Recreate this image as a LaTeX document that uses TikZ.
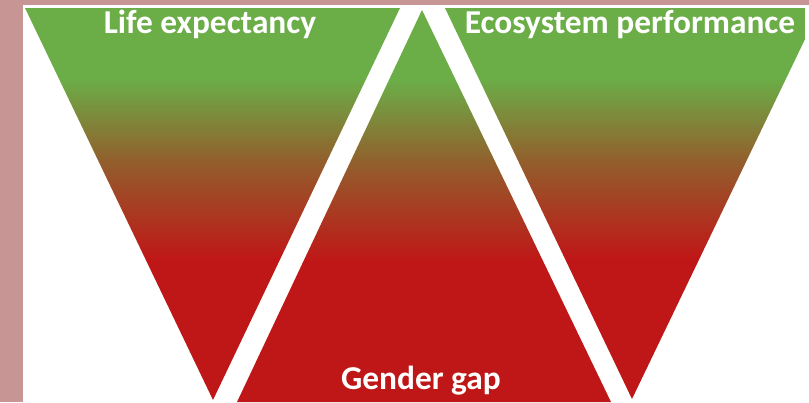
\documentclass[tikz,border=0pt]{standalone}
\usepackage{fontspec}
\setmainfont{Carlito}
\usepackage{tikz}
\usetikzlibrary{positioning}

\definecolor{rosebg}{rgb}{0.78,0.59,0.58}
\definecolor{leafgreen}{rgb}{0.42,0.68,0.28}
\definecolor{mudbrown}{rgb}{0.58,0.36,0.17}
\definecolor{blood}{rgb}{0.75,0.09,0.09}

\pgfdeclareverticalshading{greenred}{100bp}{color(0bp)=(blood); color(43bp)=(blood); color(55bp)=(mudbrown); color(66bp)=(leafgreen); color(100bp)=(leafgreen)}

\tikzset{
  tagtext/.style={text=white, font=\fontsize{19}{22}\selectfont\bfseries, anchor=base, inner sep=0pt}
}

\begin{document}
\begin{tikzpicture}
  % frame
  \useasboundingbox (0,0) rectangle (16.18,8.04);
  \clip (0,0) rectangle (16.18,8.04);
  \fill[white] (0,0) rectangle (16.18,8.04);

  % the three triangles
  \shade[shading=greenred] (0.5,7.88) -- (8.0,7.88) -- (4.26,0.04) -- cycle;
  \shade[shading=greenred] (8.44,7.84) -- (12.22,0) -- (4.74,0) -- cycle;
  \shade[shading=greenred] (8.9,7.88) -- (16.4,7.88) -- (12.64,0.06) -- cycle;

  % white margin on the right, pink bands
  \fill[white] (16.1,0) rectangle (16.18,7.94);
  \fill[rosebg] (0,0) rectangle (0.46,8.04);
  \fill[rosebg] (0.46,7.94) rectangle (16.18,8.04);

  % labels
  \node[tagtext] (life) at (4.2,7.38) {Life expectancy};
  \node[tagtext] (eco) at (12.6,7.38) {Ecosystem performance};
  \node[tagtext] (gender) at (8.42,0.26) {Gender gap};
\end{tikzpicture}
\end{document}
